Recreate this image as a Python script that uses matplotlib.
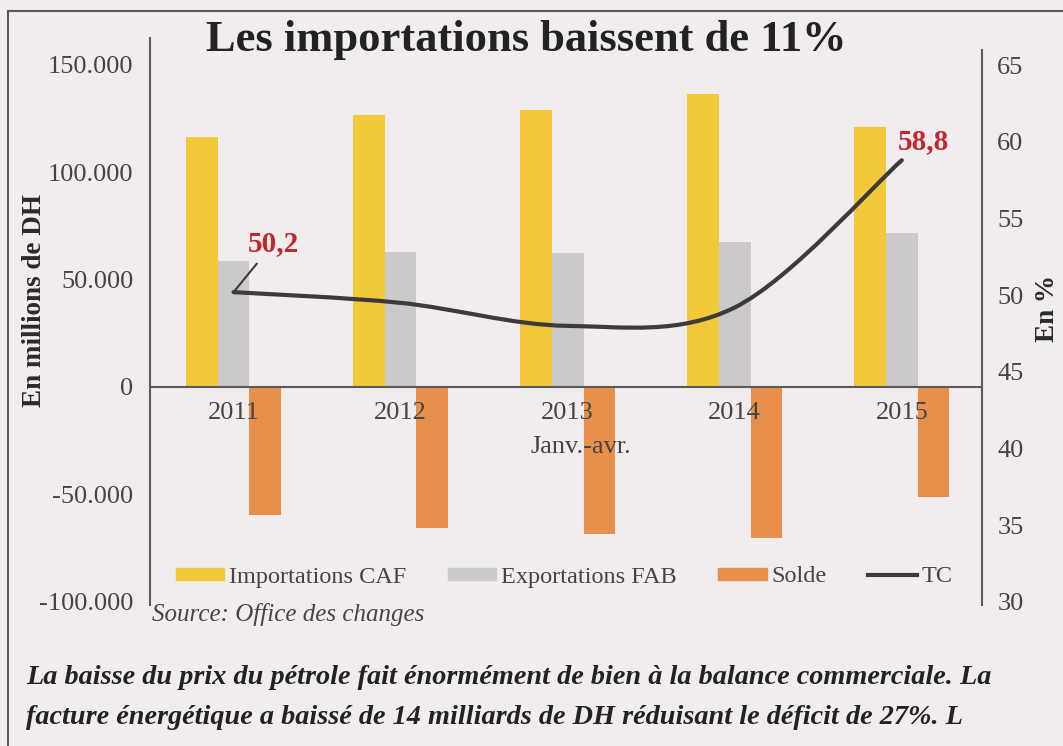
import matplotlib.pyplot as plt
from matplotlib.path import Path
from matplotlib.patches import PathPatch, Patch
from matplotlib.lines import Line2D
import numpy as np

plt.rcParams['font.family'] = ['Liberation Serif', 'DejaVu Serif']

# Data (millions de DH, janv.-avr.)
years = ['2011', '2012', '2013', '2014', '2015']
importations = [116400, 126600, 128900, 136400, 121000]
exportations = [58700, 62800, 62400, 67500, 71700]
solde = [-59600, -65600, -68400, -70300, -51200]
tc = [50.2, 49.5, 48.0, 49.2, 58.8]

left_ticks = [-100000, -50000, 0, 50000, 100000, 150000]
left_labels = ['-100.000', '-50.000', '0', '50.000', '100.000', '150.000']
right_ticks = [30, 35, 40, 45, 50, 55, 60, 65]

bg = '#f1eced'
c_imp = '#f2c93a'
c_exp = '#cbc9ca'
c_sol = '#e8904a'
c_line = '#3c3a3b'
c_red = '#c3262f'
c_txt = '#444444'
c_axis = '#5a5a5a'

W, H = 1063, 746
fig = plt.figure(figsize=(W / 100, H / 100), dpi=100, facecolor=bg)
ax = fig.add_axes([150 / W, (H - 605) / H, 832 / W, 567 / H])
ax.patch.set_alpha(0)

x = np.arange(len(years))
w = 0.19
ax.bar(x - w, importations, w, color=c_imp, zorder=2)
ax.bar(x, exportations, w, color=c_exp, zorder=2)
ax.bar(x + w, solde, w, color=c_sol, zorder=2)
ax.axhline(0, color=c_axis, lw=1.5, zorder=3)

ax.set_xlim(-0.5, 4.48)
ax.set_ylim(-101500, 162450)
ax.set_xticks([])
ax.set_yticks(left_ticks)
ax.set_yticklabels(left_labels)
ax.tick_params(axis='y', length=0, pad=12, labelsize=19, labelcolor=c_txt)
for s in ['top', 'bottom', 'right']:
    ax.spines[s].set_visible(False)
ax.spines['left'].set_color(c_axis)
ax.spines['left'].set_linewidth(1.5)

for i, yr in enumerate(years):
    ax.text(i, -12100, yr, ha='center', va='center', fontsize=19, color=c_txt)
ax.text(2.08, -27900, 'Janv.-avr.', ha='center', va='center', fontsize=19, color=c_txt)

# TC on right axis, smoothed curve
ax2 = ax.twinx()
ax2.set_ylim(29.80, 66.77)
ax2.set_yticks(right_ticks)
ax2.tick_params(axis='y', length=0, pad=11, labelsize=19, labelcolor=c_txt)
for s in ['top', 'bottom', 'left']:
    ax2.spines[s].set_visible(False)
ax2.spines['right'].set_color(c_axis)
ax2.spines['right'].set_linewidth(1.5)
ax2.spines['right'].set_bounds(29.80, 66.0)

pts = np.column_stack([x, tc]).astype(float)
ext = np.vstack([pts[0], pts, pts[-1]])
verts = [tuple(pts[0])]
codes = [Path.MOVETO]
for i in range(len(pts) - 1):
    p0, p1, p2, p3 = ext[i], ext[i + 1], ext[i + 2], ext[i + 3]
    verts += [tuple(p1 + (p2 - p0) / 6), tuple(p2 - (p3 - p1) / 6), tuple(p2)]
    codes += [Path.CURVE4] * 3
ax2.add_patch(PathPatch(Path(verts, codes), fill=False, ec=c_line, lw=3, capstyle='round'))

ax2.annotate('50,2', xy=(0, tc[0]), xytext=(0.24, 53.4), ha='center', va='center',
             fontsize=21, fontweight='bold', color=c_red,
             arrowprops=dict(arrowstyle='-', color=c_line, lw=1.5, shrinkA=4, shrinkB=0))
ax2.text(4.13, 60.0, '58,8', ha='center', va='center', fontsize=21,
         fontweight='bold', color=c_red)

# Axis titles
fig.text(35 / W, 1 - 300 / H, 'En millions de DH', rotation=90, ha='center', va='center',
         fontsize=19.5, fontweight='bold', color='#2a2a2a')
fig.text(1048 / W, 1 - 308 / H, 'En %', rotation=90, ha='center', va='center',
         fontsize=19.5, fontweight='bold', color='#2a2a2a')

# Title
fig.text(526 / W, 1 - 40 / H, 'Les importations baissent de 11%', ha='center', va='center',
         fontsize=32, fontweight='bold', color='#222222')

# Legend
handles = [Patch(color=c_imp), Patch(color=c_exp), Patch(color=c_sol),
           Line2D([], [], color=c_line, lw=3)]
labels = ['Importations CAF', 'Exportations FAB', 'Solde', 'TC']
fig.legend(handles, labels, loc='center', bbox_to_anchor=(564 / W, 1 - 577 / H), ncol=4,
           frameon=False, fontsize=17.5, handlelength=2.0, handleheight=0.4,
           handletextpad=0.2, columnspacing=1.7, labelcolor=c_txt)

fig.text(152 / W, 1 - 615 / H, 'Source: Office des changes', ha='left', va='center',
         fontsize=18, style='italic', color=c_txt)

fig.text(26 / W, 1 - 678 / H,
         'La baisse du prix du pétrole fait énormément de bien à la balance commerciale. La',
         ha='left', va='center', fontsize=20.3, style='italic', fontweight='bold', color='#222222')
fig.text(26 / W, 1 - 718 / H,
         'facture énergétique a baissé de 14 milliards de DH réduisant le déficit de 27%. L',
         ha='left', va='center', fontsize=20.3, style='italic', fontweight='bold', color='#222222')

# Frame
fig.add_artist(Line2D([8 / W, 1], [1 - 11 / H, 1 - 11 / H], transform=fig.transFigure,
                      color=c_axis, lw=1.5))
fig.add_artist(Line2D([8 / W, 8 / W], [0, 1 - 11 / H], transform=fig.transFigure,
                      color=c_axis, lw=1.5))

fig.savefig('out.png', dpi=100, facecolor=bg)
